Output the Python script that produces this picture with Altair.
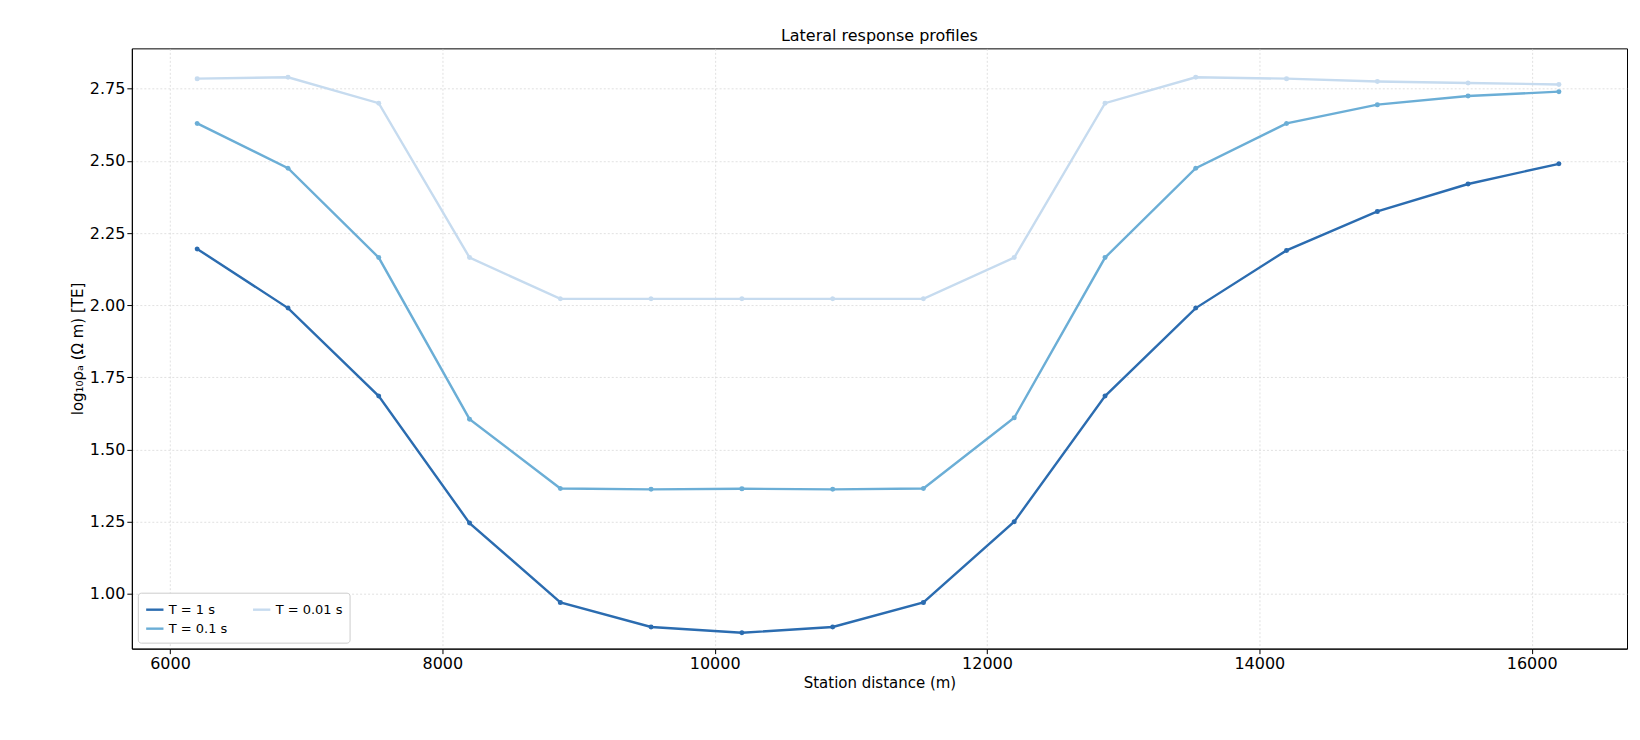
import altair as alt
import pandas as pd

stations = [6200, 6867, 7533, 8200, 8867, 9533, 10200, 10867, 11533,
            12200, 12867, 13533, 14200, 14867, 15533, 16200]
t1 = [2.195, 1.99, 1.685, 1.245, 0.97, 0.885, 0.865, 0.885, 0.97,
      1.25, 1.685, 1.99, 2.19, 2.325, 2.42, 2.49]
t01 = [2.63, 2.475, 2.165, 1.605, 1.365, 1.362, 1.364, 1.362, 1.365,
       1.61, 2.165, 2.475, 2.63, 2.695, 2.725, 2.74]
t001 = [2.785, 2.79, 2.70, 2.165, 2.022, 2.022, 2.022, 2.022, 2.022,
        2.165, 2.70, 2.79, 2.785, 2.775, 2.77, 2.765]
names = ["T = 1 s", "T = 0.1 s", "T = 0.01 s"]
colors = ["#2b6cb0", "#6baed6", "#c6dbef"]

rows = []
for name, vals in zip(names, [t1, t01, t001]):
    for x, v in zip(stations, vals):
        rows.append({"x": x, "y": v, "series": name})
df = pd.DataFrame(rows)

chart = (
    alt.Chart(df)
    .mark_line(strokeWidth=2.4, point=alt.OverlayMarkDef(size=25, filled=True))
    .encode(
        x=alt.X("x:Q", title="Station distance  (m)",
                scale=alt.Scale(domain=[5720, 16700], nice=False, zero=False),
                axis=alt.Axis(values=[6000, 8000, 10000, 12000, 14000, 16000],
                              format="d")),
        y=alt.Y("y:Q", title="log₁₀ρₐ (Ω m)  [TE]",
                scale=alt.Scale(domain=[0.81, 2.89], nice=False, zero=False),
                axis=alt.Axis(values=[1.0, 1.25, 1.5, 1.75, 2.0, 2.25, 2.5, 2.75],
                              format=".2f")),
        color=alt.Color("series:N", sort=names,
                        scale=alt.Scale(domain=names, range=colors),
                        legend=alt.Legend(title=None, orient="bottom-left",
                                          columns=2, symbolType="stroke",
                                          symbolStrokeWidth=2.4, labelFontSize=13,
                                          symbolSize=300, columnPadding=20,
                                          strokeColor="#cccccc", padding=7,
                                          fillColor="white", offset=6,
                                          cornerRadius=3)),
        order="x:Q",
    )
    .properties(width=1497, height=601, title="Lateral response profiles",
                padding={"left": 62, "top": 20, "right": 5, "bottom": 5})
    .configure_axis(grid=True, gridDash=[2, 2], gridColor="#cccccc", gridWidth=0.6,
                    domainColor="black", tickColor="black", labelFontSize=16,
                    labelColor="black", titleFontSize=15, titleFontWeight="normal",
                    titleColor="black", labelFont="DejaVu Sans", titleFont="DejaVu Sans")
    .configure_view(stroke="black")
    .configure_title(fontSize=16, fontWeight="normal", font="DejaVu Sans")
    .configure_legend(labelFont="DejaVu Sans")
)

chart.save("out.html", embed_options={"renderer": "svg", "actions": False})
